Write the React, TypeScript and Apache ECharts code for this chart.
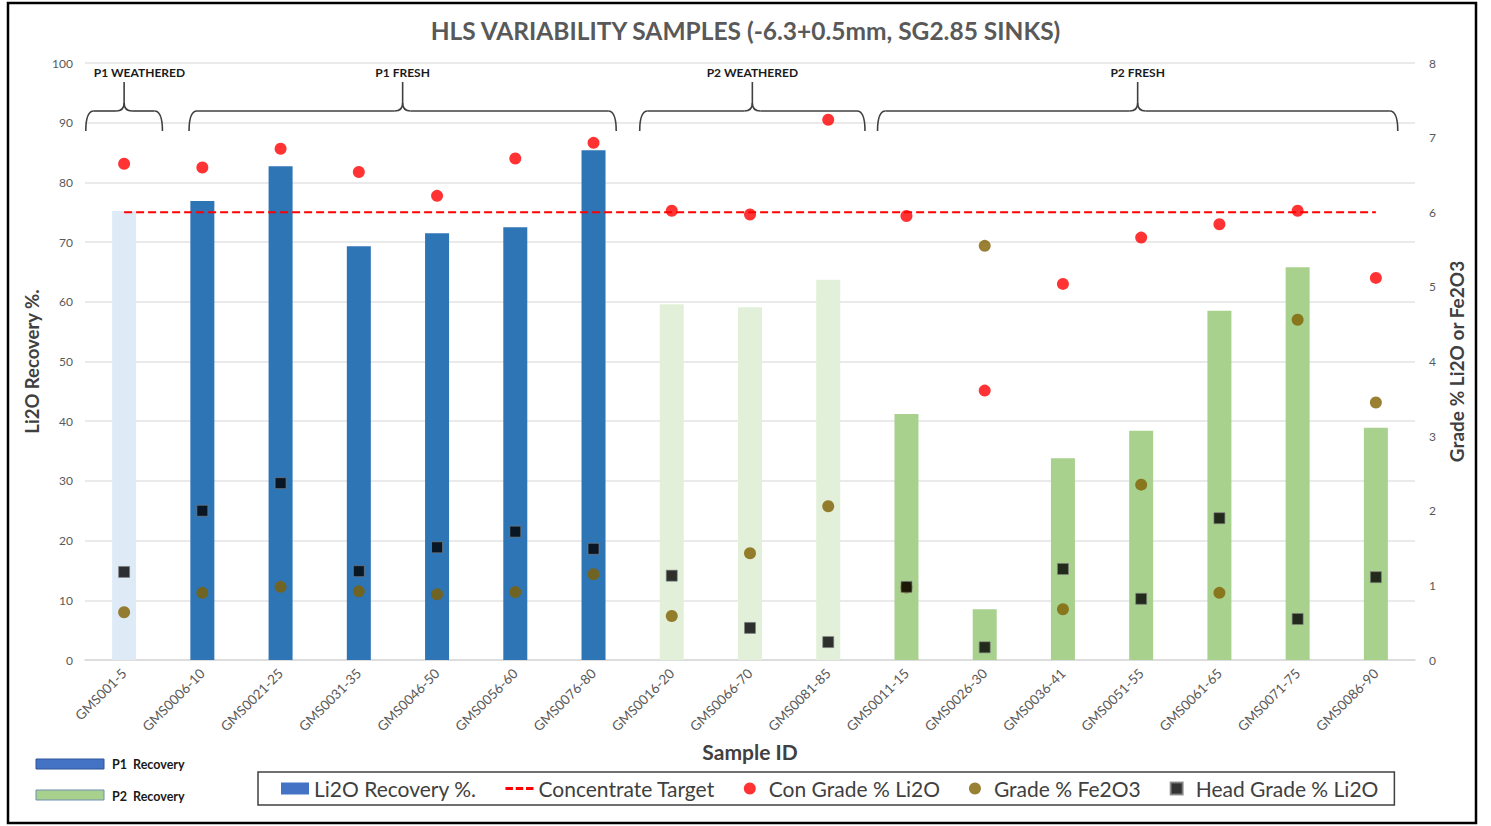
import React, { useEffect, useRef } from "react";
import * as echarts from "echarts";

const categories = [
  "GMS001-5", "GMS0006-10", "GMS0021-25", "GMS0031-35", "GMS0046-50", "GMS0056-60",
  "GMS0076-80", "GMS0016-20", "GMS0066-70", "GMS0081-85", "GMS0011-15", "GMS0026-30",
  "GMS0036-41", "GMS0051-55", "GMS0061-65", "GMS0071-75", "GMS0086-90",
];
const recovery = [75.2, 76.9, 82.7, 69.3, 71.5, 72.5, 85.4, 59.6, 59.1, 63.7, 41.2, 8.5, 33.8, 38.4, 58.5, 65.8, 38.9];
const conGrade = [6.65, 6.6, 6.85, 6.54, 6.22, 6.72, 6.93, 6.02, 5.97, 7.24, 5.95, 3.61, 5.04, 5.66, 5.84, 6.02, 5.12];
const fe2o3 = [0.64, 0.9, 0.98, 0.92, 0.88, 0.91, 1.15, 0.59, 1.43, 2.06, 0.97, 5.55, 0.68, 2.35, 0.9, 4.56, 3.45];
const headGrade = [1.18, 2.0, 2.37, 1.19, 1.51, 1.72, 1.49, 1.13, 0.43, 0.24, 0.98, 0.17, 1.22, 0.82, 1.9, 0.55, 1.11];
const concentrateTarget = 6;
const sampleGroup = [0, 1, 1, 1, 1, 1, 1, 2, 2, 2, 3, 3, 3, 3, 3, 3, 3];
const groupLabels = ["P1 WEATHERED", "P1 FRESH", "P2 WEATHERED", "P2 FRESH"];
const groupColors = ["#DEEBF7", "#2E75B6", "#E2F0D9", "#A9D18E"];
const leftTicks = { min: 0, max: 100, interval: 10 };
const rightTicks = { min: 0, max: 8, interval: 1 };

// bracket extents beyond first/last category centre, in category steps (styling only)
const bracketPads = [[0.49, 0.49], [0.17, 0.29], [0.41, 0.47], [0.37, 0.28]];

const FONT = "Lato, 'Noto Sans', sans-serif";

export default function App() {
  const ref = useRef<HTMLDivElement>(null);
  useEffect(() => {
    const chart = echarts.init(ref.current!, null, { renderer: "svg" });
    const option: any = {
      animation: false,
      backgroundColor: "#ffffff",
      textStyle: { fontFamily: FONT },
      title: {
        text: "HLS VARIABILITY SAMPLES (-6.3+0.5mm, SG2.85 SINKS)",
        left: "center",
        top: 13,
        textStyle: { fontSize: 24.5, fontWeight: "bold", color: "#595959", fontFamily: FONT },
      },
      grid: { left: 85, right: 76, top: 63, bottom: 166 },
      legend: {
        left: 258,
        top: 772,
        padding: [6, 16, 6, 23],
        borderColor: "#404040",
        borderWidth: 1.5,
        itemGap: 29,
        itemWidth: 28,
        itemHeight: 12,
        textStyle: { fontSize: 21, color: "#404040", fontFamily: FONT },
        data: [
          { name: "Li2O Recovery %.", icon: "rect" },
          { name: "Concentrate Target", icon: "path://M0,0h8v3h-8z M11,0h8v3h-8z M22,0h8v3h-8z", itemStyle: { color: "#FF0000" } },
          { name: "Con Grade % Li2O", icon: "circle" },
          { name: "Grade % Fe2O3", icon: "circle" },
          { name: "Head Grade % Li2O", icon: "path://M0,0h10v10h-10z" },
        ],
      },
      xAxis: {
        type: "category",
        data: categories,
        name: "Sample ID",
        nameLocation: "middle",
        nameGap: 81,
        nameTextStyle: { fontSize: 21, color: "#404040", fontWeight: "bold", fontFamily: FONT },
        axisLine: { lineStyle: { color: "#D9D9D9", width: 1.5 } },
        axisTick: { show: false },
        axisLabel: { rotate: 45, fontSize: 13.5, color: "#595959", margin: 11, fontFamily: FONT },
      },
      yAxis: [
        {
          type: "value",
          ...leftTicks,
          name: "Li2O Recovery %.",
          nameLocation: "middle",
          nameGap: 41,
          nameRotate: 90,
          nameTextStyle: { fontSize: 18.5, color: "#404040", fontWeight: "bold", fontFamily: FONT },
          axisLabel: { fontSize: 12, color: "#595959", margin: 12, fontFamily: FONT },
          splitLine: { lineStyle: { color: "#E3E3E3", width: 1.5 } },
          axisLine: { show: false },
          axisTick: { show: false },
        },
        {
          type: "value",
          ...rightTicks,
          name: "Grade % Li2O or Fe2O3",
          nameLocation: "middle",
          nameGap: 21,
          nameRotate: 90,
          nameTextStyle: { fontSize: 19, color: "#404040", fontWeight: "bold", fontFamily: FONT },
          axisLabel: { fontSize: 12, color: "#595959", margin: 14, fontFamily: FONT },
          splitLine: { show: false },
          axisLine: { show: false },
          axisTick: { show: false },
        },
      ],
      series: [
        {
          name: "Li2O Recovery %.",
          type: "bar",
          barWidth: 24,
          itemStyle: { color: "#4472C4" },
          data: recovery.map((v, i) => ({ value: v, itemStyle: { color: groupColors[sampleGroup[i]] } })),
          z: 1,
        },
        {
          name: "Concentrate Target",
          type: "line",
          yAxisIndex: 1,
          symbol: "none",
          lineStyle: { color: "#FF0000", width: 2.2, type: [8, 4] },
          itemStyle: { color: "#FF0000" },
          data: categories.map(() => concentrateTarget),
          z: 3,
        },
        {
          name: "Con Grade % Li2O",
          type: "scatter",
          yAxisIndex: 1,
          symbol: "circle",
          symbolSize: 12,
          itemStyle: { color: "#FF0000" },
          data: conGrade,
          z: 4,
        },
        {
          name: "Grade % Fe2O3",
          type: "scatter",
          yAxisIndex: 1,
          symbol: "circle",
          symbolSize: 12,
          itemStyle: { color: "#7F6000" },
          data: fe2o3,
          z: 4,
        },
        {
          name: "Head Grade % Li2O",
          type: "scatter",
          yAxisIndex: 1,
          symbol: "rect",
          symbolSize: 11,
          itemStyle: { color: "#000000", borderColor: "#7F7F7F", borderWidth: 0.8 },
          data: headGrade,
          z: 5,
        },
      ],
    };
    chart.setOption(option);

    // Brackets above the groups, positioned from the category axis
    const elements: any[] = [];
    const stroke = { stroke: "#404040", lineWidth: 1.6, fill: null };
    const yb = 131, yh = 111, yp = 82, r = 8;
    const px = (i: number) => chart.convertToPixel({ xAxisIndex: 0 }, i) as number;
    const step = px(1) - px(0);
    groupLabels.forEach((label, g) => {
      const idx = sampleGroup.map((s, i) => (s === g ? i : -1)).filter((i) => i >= 0);
      const x1 = px(idx[0]) - step * bracketPads[g][0];
      const x2 = px(idx[idx.length - 1]) + step * bracketPads[g][1];
      const xm = (x1 + x2) / 2;
      const half = label.length * 3.8;
      const lx = Math.max(xm, x1 + 8 + half);
      elements.push(
        { type: "bezierCurve", shape: { x1, y1: yb, cpx1: x1, cpy1: yh, x2: x1 + r, y2: yh }, style: stroke },
        { type: "line", shape: { x1: x1 + r, y1: yh, x2: xm - r, y2: yh }, style: stroke },
        { type: "bezierCurve", shape: { x1: xm - r, y1: yh, cpx1: xm, cpy1: yh, x2: xm, y2: yh - r }, style: stroke },
        { type: "line", shape: { x1: xm, y1: yh - r, x2: xm, y2: yp }, style: stroke },
        { type: "bezierCurve", shape: { x1: xm + r, y1: yh, cpx1: xm, cpy1: yh, x2: xm, y2: yh - r }, style: stroke },
        { type: "line", shape: { x1: xm + r, y1: yh, x2: x2 - r, y2: yh }, style: stroke },
        { type: "bezierCurve", shape: { x1: x2 - r, y1: yh, cpx1: x2, cpy1: yh, x2: x2, y2: yb }, style: stroke },
        {
          type: "text",
          x: lx,
          y: 72,
          style: { text: label, fill: "#1a1a1a", font: `bold 12px ${FONT}`, textAlign: "center", textVerticalAlign: "middle" },
        }
      );
    });
    // Side legend for recovery groups
    elements.push(
      { type: "rect", shape: { x: 36, y: 759, width: 68, height: 10 }, style: { fill: "#4472C4", stroke: "#2F5597", lineWidth: 1 } },
      { type: "text", x: 112, y: 764, style: { text: "P1  Recovery", fill: "#1a1a1a", font: `bold 12.5px ${FONT}`, textVerticalAlign: "middle" } },
      { type: "rect", shape: { x: 36, y: 790, width: 68, height: 10 }, style: { fill: "#A9D18E", stroke: "#6F8FAF", lineWidth: 1 } },
      { type: "text", x: 112, y: 796, style: { text: "P2  Recovery", fill: "#1a1a1a", font: `bold 12.5px ${FONT}`, textVerticalAlign: "middle" } },
      { type: "rect", shape: { x: 8, y: 3, width: 1468, height: 820 }, style: { fill: null, stroke: "#000000", lineWidth: 2.5 }, silent: true }
    );
    chart.setOption({ graphic: elements });

    return () => chart.dispose();
  }, []);
  return <div ref={ref} style={{ position: "absolute", left: 0, top: 0, width: 1491, height: 826 }} />;
}
